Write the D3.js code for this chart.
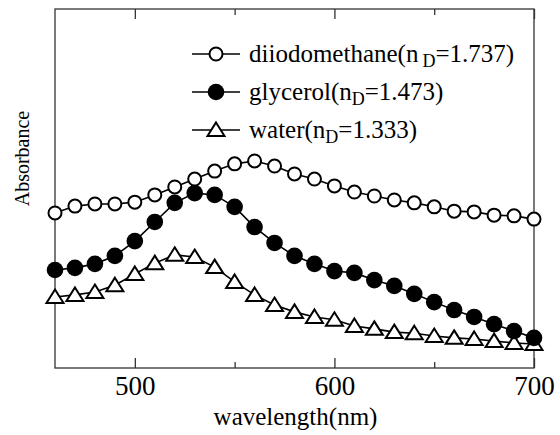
<!DOCTYPE html>
<html>
<head>
<meta charset="utf-8">
<script src="https://cdn.jsdelivr.net/npm/d3@7"></script>
<style>
  html, body { margin: 0; padding: 0; background: #fff; }
  svg { display: block; }
  text, tspan { font-family: "Liberation Serif", "Times New Roman", serif; fill: #000; }
</style>
</head>
<body>
<svg id="chart" width="560" height="435"></svg>
<script>
const wavelengths = [460,470,480,490,500,510,520,530,540,550,560,570,580,590,600,610,620,630,640,650,660,670,680,690,700];
const diiodomethane = [0.435,0.454,0.460,0.460,0.465,0.485,0.507,0.529,0.551,0.571,0.579,0.565,0.543,0.529,0.510,0.493,0.482,0.471,0.463,0.452,0.440,0.438,0.429,0.427,0.418];
const glycerol = [0.277,0.283,0.294,0.316,0.357,0.410,0.463,0.490,0.485,0.452,0.396,0.352,0.316,0.294,0.274,0.269,0.249,0.233,0.211,0.188,0.166,0.147,0.127,0.108,0.089];
const water = [0.202,0.208,0.216,0.235,0.266,0.296,0.319,0.313,0.285,0.244,0.208,0.180,0.161,0.147,0.139,0.122,0.114,0.105,0.102,0.094,0.089,0.086,0.080,0.075,0.072];
const majorTicks = [500,600,700];
const minorTicks = [550,650];
const seriesNames = ["diiodomethane", "glycerol", "water"];
const seriesIndex = ["1.737", "1.473", "1.333"];
const xLabel = "wavelength(nm)";
const yLabel = "Absorbance";

const FONT = "Liberation Serif, Times New Roman, serif";
const svg = d3.select("#chart");
const pL = 55, pR = 534, pT = 9, pB = 368;
const x = d3.scaleLinear().domain([460, 700]).range([pL, pR]);
const y = d3.scaleLinear().domain([0, 1]).range([370, 9]);

svg.append("rect").attr("x", pL).attr("y", pT).attr("width", pR - pL).attr("height", pB - pT)
  .attr("fill", "none").attr("stroke", "#333").attr("stroke-width", 1.3);

function axisG(gen, ty) {
  const g = svg.append("g").attr("transform", `translate(0,${ty})`).call(gen);
  g.select(".domain").remove();
  g.selectAll("line").attr("stroke", "#333").attr("stroke-width", 1.3);
  return g;
}
const bMaj = axisG(d3.axisBottom(x).tickValues(majorTicks).tickSize(-10).tickPadding(8).tickFormat(d3.format("d")), pB);
bMaj.attr("font-family", FONT);
bMaj.selectAll("text").attr("font-size", 27).attr("font-family", FONT).attr("fill", "#000");
axisG(d3.axisBottom(x).tickValues(minorTicks).tickSize(-6).tickFormat(""), pB);
axisG(d3.axisTop(x).tickValues(majorTicks).tickSize(-10).tickFormat(""), pT);
axisG(d3.axisTop(x).tickValues(minorTicks).tickSize(-6).tickFormat(""), pT);

svg.append("text").attr("x", (pL + pR) / 2 + 1).attr("y", 425).attr("text-anchor", "middle")
  .attr("font-family", FONT).attr("font-size", 25).text(xLabel);
svg.append("text").attr("transform", `translate(29,${(pT + pB) / 2 - 30}) rotate(-90)`)
  .attr("text-anchor", "middle").attr("font-family", FONT).attr("font-size", 20).text(yLabel);

const line = d3.line().x((d, i) => x(wavelengths[i])).y(d => y(d));
const datasets = [diiodomethane, glycerol, water];

function drawMarker(g, kind, cx, cy) {
  if (kind === 0) {
    g.append("circle").attr("cx", cx).attr("cy", cy).attr("r", 6.5)
      .attr("fill", "#fff").attr("stroke", "#000").attr("stroke-width", 2);
  } else if (kind === 1) {
    g.append("circle").attr("cx", cx).attr("cy", cy).attr("r", 8.3).attr("fill", "#000");
  } else {
    const s = 8.5;
    g.append("path").attr("d", `M${cx},${cy - 7.5}L${cx + s},${cy + 6}L${cx - s},${cy + 6}Z`)
      .attr("fill", "#fff").attr("stroke", "#000").attr("stroke-width", 2).attr("stroke-linejoin", "miter");
  }
}

[2, 1, 0].forEach(k => {
  const data = datasets[k];
  const g = svg.append("g");
  g.append("path").datum(data).attr("d", line).attr("fill", "none").attr("stroke", "#000").attr("stroke-width", 1.6);
  data.forEach((v, i) => drawMarker(g, k, x(wavelengths[i]), y(v)));
});

const legendRows = [54, 92, 130];
seriesNames.forEach((name, k) => {
  const ly = legendRows[k];
  const g = svg.append("g");
  g.append("line").attr("x1", 192).attr("x2", 240).attr("y1", ly).attr("y2", ly).attr("stroke", "#000").attr("stroke-width", 1.6);
  drawMarker(g, k, 216, ly);
  const t = g.append("text").attr("x", 249).attr("y", ly + 8).attr("font-family", FONT).attr("font-size", 25);
  t.append("tspan").text(name + "(n");
  t.append("tspan").attr("font-size", 18).attr("dy", 5).attr("dx", k === 0 ? 4 : 0).text("D");
  t.append("tspan").attr("dy", -5).text("=" + seriesIndex[k] + ")");
});
</script>
</body>
</html>
